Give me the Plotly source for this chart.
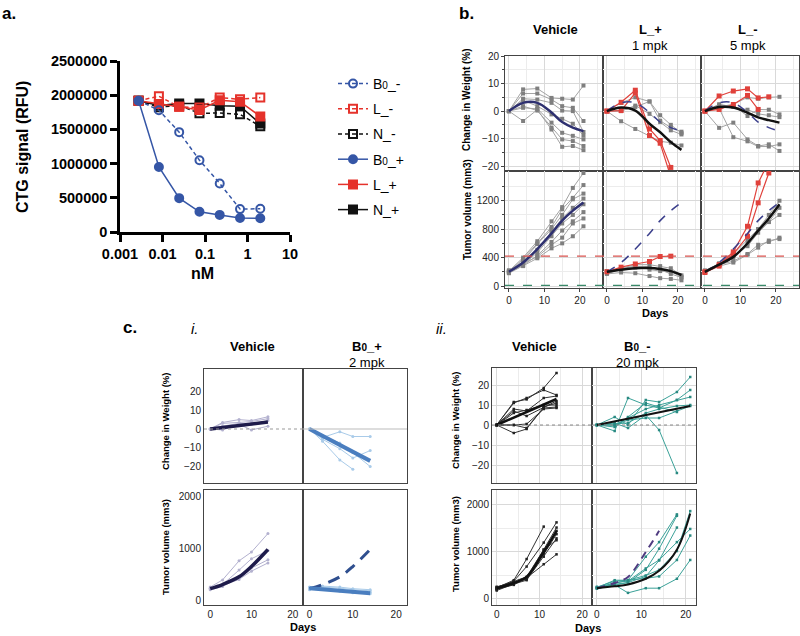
import plotly.graph_objects as go

W, H = 800, 636
FONT = "Liberation Sans, Arial, Helvetica, sans-serif"

# ---------------- Panel a: CTG dose response ----------------
A_DOSE_NM = [0.00274, 0.00823, 0.0247, 0.0741, 0.222, 0.667, 2.0]
A_B0_MINUS = [1920000, 1780000, 1460000, 1050000, 710000, 335000, 340000]
A_L_MINUS = [1920000, 1985000, 1830000, 1820000, 1965000, 1940000, 1965000]
A_N_MINUS = [1920000, 1825000, 1850000, 1735000, 1740000, 1720000, 1545000]
A_B0_PLUS = [1920000, 950000, 495000, 295000, 250000, 205000, 200000]
A_L_PLUS = [1920000, 1870000, 1830000, 1785000, 1925000, 1905000, 1690000]
A_N_PLUS = [1920000, 1850000, 1880000, 1880000, 1845000, 1840000, 1585000]
A_YTICKS = [0, 500000, 1000000, 1500000, 2000000, 2500000]
A_YTICK_TEXT = ["0", "500000", "1000000", "1500000", "2000000", "2500000"]
A_XTICKS = [0.001, 0.01, 0.1, 1, 10]
A_XTICK_TEXT = ["0.001", "0.01", "0.1", "1", "10"]

# ---------------- Panel b ----------------
B_DAYS = [0, 4, 8, 12, 15, 18, 21]
B_VEH_WT = [
    [0, 7.9, 8.2, 4.8, 4.5, 4.2, 9.3],
    [0, 6.4, 6.4, 4.2, 1.8, 1.2, -3.6],
    [0, 4.5, 4.2, 3.0, 0.2, 0.0, -7.6],
    [0, 3.9, 1.8, -1.2, -2.8, -4.6, -8.9],
    [0, 1.2, 0.8, -4.2, -7.9, -9.0, -10.3],
    [0, 1.8, 0.2, -6.0, -10.3, -10.9, -12.7],
    [0, -3.6, 0.5, -6.7, -13.0, -12.7, -14.2],
]
B_VEH_WT_MEAN = [0, 3.0, 3.0, -0.5, -4.0, -6.0, -7.3]
B_LP_WT = [
    [0, 3.0, 5.0, 3.5, -1.5, -5.0, -8.0],
    [0, 0.3, 1.5, 3.5, -3.5, -6.0, -7.5],
    [0, -3.7, -6.5, -9.0, -11.0, -11.5, -12.5],
    [0, 0.0, 2.0, -1.0, -4.0, -7.0, -8.5],
]
B_LP_WT_RED = [
    [0, 3.2, 7.6, -6.5, -10.7, -20.5, None],
    [0, 0.2, 6.6, -8.9, -11.7, -24.0, None],
]
B_LP_WT_MEAN = [0, 1.3, 0.2, -4.6, -7.7, -11.3, -14.1]
B_LM_WT = [
    [0, 2.5, 1.5, 0.5, -1.0, -1.5, -2.2],
    [0, -6.1, -4.2, -10.3, -12.7, -12.1, -14.5],
    [0, 1.0, -9.5, -11.0, -12.9, -12.9, -12.1],
    [0, 2.0, 2.0, -1.8, 0.6, 0.5, -1.2],
    [0, 1.5, 2.5, 5.0, 4.5, 5.0, 5.2],
]
B_LM_WT_RED = [
    [0, 5.5, 7.3, 8.1, 4.8, 5.2, None],
    [0, 0.6, 2.4, 5.7, 0.6, None, None],
]
B_LM_WT_MEAN = [0, 1.5, 1.3, -0.6, -2.3, -3.3, -4.2]

B_VEH_TV = [
    [210, 400, 630, 910, 1110, 1380, 1590],
    [200, 380, 600, 830, 1080, 1240, 1420],
    [190, 350, 590, 800, 1000, 1220, 1300],
    [220, 340, 510, 760, 950, 1100, 1230],
    [200, 300, 470, 700, 880, 1000, 1150],
    [190, 290, 430, 620, 780, 910, 1040],
    [215, 320, 410, 580, 680, 880, 950],
    [180, 280, 390, 530, 600, 700, 840],
]
B_VEH_TV_MEAN = [200, 330, 520, 740, 920, 1060, 1175]
B_LP_TV = [
    [200, 250, 300, 300, 280, 250, 150],
    [180, 230, 260, 230, 210, 200, 130],
    [170, 190, 180, 140, 110, 100, 80],
    [210, 240, 280, 260, 230, 170, 120],
]
B_LP_TV_RED = [[200, 265, 310, 345, 415, 420, None]]
B_LP_TV_MEAN = [200, 230, 250, 255, 240, 210, 155]
B_LM_TV = [
    [200, 300, 350, 450, 580, 620, 680],
    [190, 280, 330, 440, 540, 640, 660],
    [210, 320, 420, 560, 750, 900, 1000],
    [200, 300, 400, 600, 800, 900, 1100],
    [220, 310, 450, 650, 800, 1000, 1200],
]
B_LM_TV_RED = [
    [200, 300, 480, 840, 1450, 1750, None],
    [190, 280, 450, 700, 1170, 1590, None],
]
B_LM_TV_MEAN = [200, 300, 410, 600, 780, 950, 1150]
B_REF_RED = 420
B_REF_GREEN = 10
B_WT_TICKS = [-20, -10, 0, 10, 20]
B_WT_MINOR = [-15, -5, 5, 15]
B_TV_TICKS = [0, 400, 800, 1200]
B_TV_MINOR = [200, 600, 1000, 1400]

# ---------------- Panel c-i ----------------
CI_DAYS = [0, 3, 7, 10, 14]
CI_VEH_WT = [
    [0, 3.5, 5.0, 4.5, 6.5],
    [0, 3.0, 3.5, 4.0, 5.5],
    [0, -0.5, 2.5, -0.5, 1.5],
    [0, 1.5, 3.0, 2.5, 4.5],
]
CI_VEH_WT_MEAN = [0, 0.8, 1.8, 2.6, 3.7]
CI_B0P_WT = [
    [0, -4.5, -1.5, -4.0, -4.0],
    [0, -5.5, -10.5, -15.5, -11.5],
    [0, -6.5, -16.5, -21.5, None],
    [0, -3.5, -7.5, -12.5, -20.0],
]
CI_B0P_WT_MEAN = [0, -3.6, -8.5, -12.1, -17.0]
CI_VEH_TV = [
    [250, 390, 760, 930, 1290],
    [230, 300, 580, 800, 960],
    [200, 260, 450, 620, 780],
    [220, 280, 400, 560, 720],
]
CI_VEH_TV_MEAN = [220, 300, 450, 650, 980]
CI_B0P_TV = [
    [220, 250, 230, 200, 180],
    [250, 260, 170, 140, 120],
    [200, 230, 200, 170, 150],
    [240, 270, 250, 220, 200],
]
CI_B0P_TV_MEAN = [230, 210, 180, 150, 130]

# ---------------- Panel c-ii ----------------
CII_VEH_DAYS = [0, 4, 7, 11, 14]
CII_VEH_WT = [
    [0, 11.5, 12.8, 18.5, 26.0],
    [0, 11.0, 13.5, 17.5, 15.0],
    [0, 8.0, 7.0, 13.5, 14.5],
    [0, 7.0, 4.5, 9.0, 12.0],
    [0, -4.0, -2.0, 9.0, 11.0],
    [0, 0.0, 0.5, 8.0, 8.5],
    [0, 6.0, 7.5, 10.0, 10.0],
    [0, 0.0, -1.5, 8.5, 9.0],
]
CII_VEH_WT_MEAN = [0, 3.8, 6.6, 10.3, 13.0]
CII_B0M_DAYS = [0, 4, 7, 11, 14, 18, 21]
CII_B0M_WT = [
    [0, 4.0, 0.0, 12.5, 11.5, 16.5, 24.0],
    [0, -3.0, 13.5, 10.0, 8.5, 12.5, 17.5],
    [0, 0.0, 3.5, 8.0, 10.0, 12.5, 14.0],
    [0, 1.0, -1.5, 5.0, -2.5, -24.0, None],
    [0, 0.0, 2.5, 3.5, 3.5, 7.0, 9.5],
    [0, 0.5, 1.0, 6.0, 8.0, 9.5, 10.0],
    [0, -1.0, 4.0, 11.0, 9.0, 6.5, None],
]
CII_B0M_WT_MEAN = [0, 1.8, 3.2, 5.0, 6.5, 8.2, 9.5]
CII_VEH_TV = [
    [240, 400, 850, 1540, None],
    [220, 380, 690, 1200, 1630],
    [250, 370, 470, 1050, 1520],
    [200, 340, 430, 1000, 1450],
    [260, 360, 420, 950, 1380],
    [180, 320, 400, 900, 1290],
    [210, 300, 450, 740, 950],
    [230, 350, 440, 1050, 1250],
]
CII_VEH_TV_MEAN = [230, 340, 470, 1000, 1450]
CII_B0M_TV = [
    [230, 300, 130, 230, 230, 430, 830],
    [240, 330, 400, 440, 480, 830, 1350],
    [230, 350, 380, 650, 830, 1210, 1490],
    [250, 380, 400, 900, 1210, 1800, None],
    [220, 300, 350, 620, 1070, 1770, None],
    [240, 400, 400, 500, 620, 1020, 1870],
    [260, 320, 350, 480, 820, 1520, None],
]
CII_B0M_TV_MEAN = [230, 270, 310, 430, 600, 1050, 1820]

# ---------------- colours ----------------
BLUE = "#3556a6"
RED = "#e5322b"
BLACK = "#111111"
GRAY_L = "#a3a3a3"
GRAY_M = "#7f7f7f"
RED_B = "#e0413b"
NAVY = "#2e3070"
NAVY_D = "#3b3f8c"
CI_VLINE = "#b3b1cf"
CI_VMEAN = "#1e1b4b"
CI_BLINE = "#a9cbe9"
CI_BMEAN = "#4a7ebf"
CI_BREF = "#2f4f8f"
TEAL = "#3aa198"
TEAL_M = "#2a8a82"
PURPLE = "#4f3b80"

fig = go.Figure()
layout_axes = {}


def setup(i, xpx, ypx, xr, yr, xkw, ykw):
    s = "" if i == 1 else str(i)
    layout_axes["xaxis" + s] = dict(domain=[xpx[0] / W, xpx[1] / W], range=xr,
                                    anchor="y" + s, automargin=False, **xkw)
    layout_axes["yaxis" + s] = dict(domain=[1 - ypx[1] / H, 1 - ypx[0] / H], range=yr,
                                    anchor="x" + s, automargin=False, **ykw)
    return "x" + s, "y" + s


def add_lines(xa, ya, days, rows, color, width, mcolor=None, msize=0, symbol="square",
              dash=None, shape="linear", opacity=1.0):
    for r in rows:
        mode = "lines+markers" if msize else "lines"
        fig.add_trace(go.Scatter(
            x=days, y=r, xaxis=xa, yaxis=ya, mode=mode, showlegend=False,
            line=dict(color=color, width=width, dash=dash, shape=shape),
            marker=dict(color=mcolor or color, size=msize, symbol=symbol),
            opacity=opacity, hoverinfo="skip"))


# ================= Panel a =================
axa_x, axa_y = setup(
    1, (120, 290), (61, 232), [-3, 1], [0, 2500000],
    dict(type="log", tickvals=A_XTICKS, ticktext=A_XTICK_TEXT, showgrid=False, zeroline=False,
         showline=True, linecolor="black", linewidth=2.5, ticks="outside", ticklen=7,
         tickwidth=2.5, tickcolor="black",
         tickfont=dict(family=FONT, size=14.5, color="black", weight="bold")),
    dict(tickvals=A_YTICKS, ticktext=A_YTICK_TEXT, showgrid=False, zeroline=False,
         showline=True, linecolor="black",
         linewidth=2.5, ticks="outside", ticklen=7, tickwidth=2.5, tickcolor="black",
         tickfont=dict(family=FONT, size=14.5, color="black", weight="bold")))

a_series = [
    ("N_-", A_N_MINUS, BLACK, "square-open", "4px,3px", 3),
    ("N_+", A_N_PLUS, BLACK, "square", "solid", 6),
    ("L_-", A_L_MINUS, RED, "square-open", "4px,3px", 2),
    ("L_+", A_L_PLUS, RED, "square", "solid", 5),
    ("B<span style='font-size:10px'>0</span>_-", A_B0_MINUS, BLUE, "circle-open", "4px,3px", 1),
    ("B<span style='font-size:10px'>0</span>_+", A_B0_PLUS, BLUE, "circle", "solid", 4),
]
for name, vals, col, sym, dash, rank in a_series:
    fig.add_trace(go.Scatter(
        x=A_DOSE_NM, y=vals, xaxis=axa_x, yaxis=axa_y, mode="lines+markers", name=name,
        legendgroup=name, legendrank=rank,
        line=dict(color=col, width=1.5, dash=dash),
        marker=dict(color=col, size=8, symbol=sym, line=dict(color=col, width=2))))

# ================= Panel b =================
B_COLS = [(505, 603), (603, 701), (701, 799)]
B_TOP = (56, 171)
B_BOT = (171, 288)
B_XR = [-1.1, 26.5]
grid_major = "#d9d9d9"
grid_minor = "#ececec"
tick_font = dict(family=FONT, size=10, color="#222")


def b_xkw(labels):
    return dict(showline=True, mirror=True, linecolor="#444", linewidth=1, zeroline=False,
                showgrid=True, gridcolor=grid_major, tickvals=[0, 10, 20],
                ticks="outside" if labels else "", ticklen=3, tickcolor="#444",
                showticklabels=labels, tickfont=tick_font,
                minor=dict(tickvals=[5, 15, 25], showgrid=True, gridcolor=grid_minor))


def b_ykw(labels, tv, mtv):
    return dict(showline=True, mirror=True, linecolor="#444", linewidth=1, zeroline=False,
                showgrid=True, gridcolor=grid_major, tickvals=tv,
                ticks="outside" if labels else "", ticklen=3, tickcolor="#444",
                showticklabels=labels, tickfont=tick_font,
                minor=dict(tickvals=mtv, showgrid=True, gridcolor=grid_minor,
                           ticks="outside" if labels else "", ticklen=2, tickcolor="#444"))


b_axes_top = []
b_axes_bot = []
for k, cols in enumerate(B_COLS):
    b_axes_top.append(setup(2 + k, cols, B_TOP, B_XR, [-21.8, 20.05],
                            b_xkw(False), b_ykw(k == 0, B_WT_TICKS, B_WT_MINOR)))
    b_axes_bot.append(setup(5 + k, cols, B_BOT, B_XR, [-28, 1618],
                            b_xkw(True), b_ykw(k == 0, B_TV_TICKS, B_TV_MINOR)))

# Vehicle
xa, ya = b_axes_top[0]
add_lines(xa, ya, B_DAYS, B_VEH_WT, GRAY_L, 1, GRAY_M, 4)
add_lines(xa, ya, B_DAYS, [B_VEH_WT_MEAN], NAVY, 2.5, shape="spline")
xa, ya = b_axes_bot[0]
add_lines(xa, ya, B_DAYS, B_VEH_TV, GRAY_L, 1, GRAY_M, 4)
add_lines(xa, ya, B_DAYS, [B_VEH_TV_MEAN], NAVY, 2.5, shape="spline")
# L_+ 1 mpk
xa, ya = b_axes_top[1]
add_lines(xa, ya, B_DAYS, B_LP_WT, GRAY_L, 1, GRAY_M, 4)
add_lines(xa, ya, B_DAYS, B_LP_WT_RED, RED_B, 1.2, RED_B, 5)
add_lines(xa, ya, B_DAYS, [B_VEH_WT_MEAN], NAVY_D, 1.5, dash="dash", shape="spline")
add_lines(xa, ya, B_DAYS, [B_LP_WT_MEAN], BLACK, 2.5, shape="spline")
xa, ya = b_axes_bot[1]
add_lines(xa, ya, B_DAYS, B_LP_TV, GRAY_L, 1, GRAY_M, 4)
add_lines(xa, ya, B_DAYS, B_LP_TV_RED, RED_B, 1.2, RED_B, 5)
add_lines(xa, ya, B_DAYS, [B_VEH_TV_MEAN], NAVY_D, 1.5, dash="dash", shape="spline")
add_lines(xa, ya, B_DAYS, [B_LP_TV_MEAN], BLACK, 2.5, shape="spline")
# L_- 5 mpk
xa, ya = b_axes_top[2]
add_lines(xa, ya, B_DAYS, B_LM_WT, GRAY_L, 1, GRAY_M, 4)
add_lines(xa, ya, B_DAYS, B_LM_WT_RED, RED_B, 1.2, RED_B, 5)
add_lines(xa, ya, B_DAYS, [B_VEH_WT_MEAN], NAVY_D, 1.5, dash="dash", shape="spline")
add_lines(xa, ya, B_DAYS, [B_LM_WT_MEAN], BLACK, 2.5, shape="spline")
xa, ya = b_axes_bot[2]
add_lines(xa, ya, B_DAYS, B_LM_TV, GRAY_L, 1, GRAY_M, 4)
add_lines(xa, ya, B_DAYS, B_LM_TV_RED, RED_B, 1.2, RED_B, 5)
add_lines(xa, ya, B_DAYS, [B_VEH_TV_MEAN], NAVY_D, 1.5, dash="dash", shape="spline")
add_lines(xa, ya, B_DAYS, [B_LM_TV_MEAN], BLACK, 2.5, shape="spline")

shapes = []
for val, col in ((B_REF_RED, "#d9534f"), (B_REF_GREEN, "#3a8a6a")):
    shapes.append(dict(type="line", xref="paper", yref="y5", x0=505 / W, x1=799 / W,
                       y0=val, y1=val, line=dict(color=col, width=1.3, dash="dash")))

# ================= Panel c-i =================
CI_XR = [-1.5, 22.5]


def c_xkw(labels, grid):
    d = dict(showline=True, mirror=True, linecolor="#444", linewidth=1, zeroline=False,
             showgrid=grid, gridcolor=grid_major, tickvals=[0, 10, 20],
             ticks="", showticklabels=labels, tickfont=tick_font)
    if grid:
        d["minor"] = dict(tickvals=[5, 15], showgrid=True, gridcolor=grid_minor)
    return d


def c_ykw(labels, grid, tv, minor=None):
    d = dict(showline=True, mirror=True, linecolor="#444", linewidth=1, zeroline=False,
             showgrid=grid, gridcolor=grid_major, tickvals=tv, ticks="",
             showticklabels=labels, tickfont=tick_font)
    if minor:
        d["minor"] = dict(tickvals=minor, showgrid=True, gridcolor=grid_minor)
    return d


WT_TICKS = [-20, -10, 0, 10, 20]
TV_TICKS = [0, 1000, 2000]
ci_tl = setup(8, (204, 303), (369, 483), CI_XR, [-28.8, 32], c_xkw(False, False),
              c_ykw(True, False, WT_TICKS))
ci_tr = setup(9, (303, 407), (369, 483), CI_XR, [-28.8, 32], c_xkw(False, False),
              c_ykw(False, False, WT_TICKS))
ci_bl = setup(10, (204, 303), (490, 605), CI_XR, [-97, 2135], c_xkw(True, False),
              c_ykw(True, False, TV_TICKS))
ci_br = setup(11, (303, 407), (490, 605), CI_XR, [-97, 2135], c_xkw(True, False),
              c_ykw(False, False, TV_TICKS))

shapes.append(dict(type="line", xref="x8 domain", yref="y8", x0=0, x1=1, y0=0, y1=0,
                   line=dict(color="#999", width=1, dash="dot")))
shapes.append(dict(type="line", xref="x9 domain", yref="y9", x0=0, x1=1, y0=0, y1=0,
                   line=dict(color="#bbb", width=1)))

add_lines(ci_tl[0], ci_tl[1], CI_DAYS, CI_VEH_WT, CI_VLINE, 1, CI_VLINE, 3, symbol="circle")
add_lines(ci_tl[0], ci_tl[1], CI_DAYS, [CI_VEH_WT_MEAN], CI_VMEAN, 3.5)
add_lines(ci_tr[0], ci_tr[1], CI_DAYS, CI_B0P_WT, CI_BLINE, 1, CI_BLINE, 3, symbol="circle")
add_lines(ci_tr[0], ci_tr[1], CI_DAYS, [CI_B0P_WT_MEAN], CI_BMEAN, 4)
add_lines(ci_bl[0], ci_bl[1], CI_DAYS, CI_VEH_TV, CI_VLINE, 1, CI_VLINE, 3, symbol="circle")
add_lines(ci_bl[0], ci_bl[1], CI_DAYS, [CI_VEH_TV_MEAN], CI_VMEAN, 3.5, shape="spline")
add_lines(ci_br[0], ci_br[1], CI_DAYS, CI_B0P_TV, CI_BLINE, 1, CI_BLINE, 3, symbol="circle")
add_lines(ci_br[0], ci_br[1], CI_DAYS, [CI_VEH_TV_MEAN], CI_BREF, 3, dash="12px,8px",
          shape="spline")
add_lines(ci_br[0], ci_br[1], CI_DAYS, [CI_B0P_TV_MEAN], CI_BMEAN, 4)

# ================= Panel c-ii =================
CII_XR = [-1.1, 22.3]
cii_tl = setup(12, (492, 592), (368, 483), CII_XR, [-29, 28.5], c_xkw(False, True),
               c_ykw(True, True, WT_TICKS))
cii_tr = setup(13, (592, 696), (368, 483), CII_XR, [-29, 28.5], c_xkw(False, True),
               c_ykw(False, True, WT_TICKS))
cii_bl = setup(14, (492, 592), (490, 605), CII_XR, [-128, 2319], c_xkw(True, True),
               c_ykw(True, True, TV_TICKS, [500, 1500]))
cii_br = setup(15, (592, 696), (490, 605), CII_XR, [-128, 2319], c_xkw(True, True),
               c_ykw(False, True, TV_TICKS, [500, 1500]))
for ax in ("12", "13"):
    shapes.append(dict(type="line", xref="x%s domain" % ax, yref="y" + ax, x0=0, x1=1,
                       y0=0, y1=0, line=dict(color="#888", width=1, dash="dot")))

add_lines(cii_tl[0], cii_tl[1], CII_VEH_DAYS, CII_VEH_WT, "#333", 1, "#222", 2.5)
add_lines(cii_tl[0], cii_tl[1], CII_VEH_DAYS, [CII_VEH_WT_MEAN], BLACK, 2.5)
add_lines(cii_tr[0], cii_tr[1], CII_B0M_DAYS, CII_B0M_WT, TEAL, 1, TEAL_M, 2.5)
add_lines(cii_tr[0], cii_tr[1], CII_B0M_DAYS, [CII_B0M_WT_MEAN], BLACK, 2)
add_lines(cii_bl[0], cii_bl[1], CII_VEH_DAYS, CII_VEH_TV, "#333", 1, "#222", 2.5)
add_lines(cii_bl[0], cii_bl[1], CII_VEH_DAYS, [CII_VEH_TV_MEAN], BLACK, 2.5, shape="spline")
add_lines(cii_br[0], cii_br[1], CII_B0M_DAYS, CII_B0M_TV, TEAL, 1, TEAL_M, 2.5)
add_lines(cii_br[0], cii_br[1], CII_VEH_DAYS, [CII_VEH_TV_MEAN], PURPLE, 2,
          dash="8px,6px", shape="spline")
add_lines(cii_br[0], cii_br[1], CII_B0M_DAYS, [CII_B0M_TV_MEAN], BLACK, 2, shape="spline")

# ================= Text =================
ann = []


def txt(x, y, s, size, bold=False, italic=False, angle=0, xanchor="center"):
    st = s
    if italic:
        st = "<i>" + st + "</i>"
    ann.append(dict(x=x / W, y=1 - y / H, xref="paper", yref="paper", text=st,
                    showarrow=False, xanchor=xanchor, yanchor="middle", textangle=angle,
                    font=dict(family=FONT, size=size, color="black",
                              weight="bold" if bold else "normal")))


B0 = "B<span style='font-size:10px'>0</span>"
txt(0, 13, "a.", 17, bold=True, xanchor="left")
txt(22, 147, "CTG signal (RFU)", 16, bold=True, angle=-90)
txt(203, 273, "nM", 16, bold=True)

txt(457, 13, "b.", 17, bold=True, xanchor="left")
txt(555, 29, "Vehicle", 13, bold=True)
txt(650, 29, "L_+", 13, bold=True)
txt(650, 45, "1 mpk", 13)
txt(748, 29, "L_-", 13, bold=True)
txt(748, 45, "5 mpk", 13)
txt(467, 100, "Change in Weight (%)", 10, bold=True, angle=-90)
txt(467, 210, "Tumor volume (mm3)", 10, bold=True, angle=-90)
txt(655, 313, "Days", 11, bold=True)

txt(121, 327, "c.", 17, bold=True, xanchor="left")
txt(189, 328, "i.", 15, italic=True, xanchor="left")
txt(252, 346, "Vehicle", 13, bold=True)
txt(367, 346, B0 + "_+", 13, bold=True)
txt(367, 362, "2 mpk", 13)
txt(165, 422, "Change in Weight (%)", 9.5, bold=True, angle=-90)
txt(165, 547, "Tumor volume (mm3)", 9.5, bold=True, angle=-90)
txt(303, 627, "Days", 11, bold=True)

txt(434, 328, "ii.", 15, italic=True, xanchor="left")
txt(534, 346, "Vehicle", 13, bold=True)
txt(637, 346, B0 + "_-", 13, bold=True)
txt(637, 362, "20 mpk", 13)
txt(455, 421, "Change in Weight (%)", 9.5, bold=True, angle=-90)
txt(455, 544, "Tumor volume (mm3)", 9.5, bold=True, angle=-90)
txt(588, 628, "Days", 11, bold=True)

fig.update_layout(
    width=W, height=H, margin=dict(l=0, r=0, t=0, b=0, autoexpand=False),
    paper_bgcolor="white", plot_bgcolor="white",
    font=dict(family=FONT, color="black"),
    showlegend=True, hovermode=False,
    legend=dict(x=333 / W, y=1 - 68 / H, xanchor="left", yanchor="top",
                font=dict(family=FONT, size=14, color="black"),
                tracegroupgap=4, bgcolor="rgba(0,0,0,0)", itemwidth=30),
    shapes=shapes, annotations=ann, **layout_axes)

fig.write_html("out.html", config={"displayModeBar": False},
               post_script="document.body.style.margin='0px';")
